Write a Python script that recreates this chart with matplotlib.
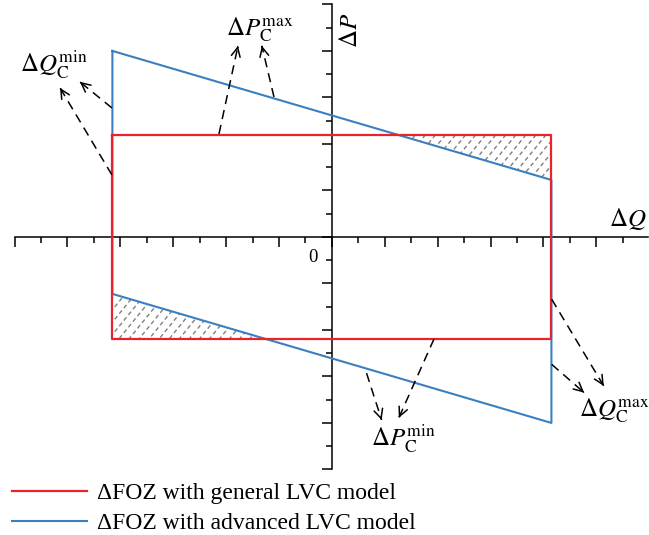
import numpy as np
import matplotlib
matplotlib.use('Agg')
import matplotlib.pyplot as plt
from matplotlib.patches import Polygon

plt.rcParams['font.family'] = ['Liberation Serif', 'DejaVu Serif']
plt.rcParams['mathtext.fontset'] = 'stix'

# FOZ bounds (tick units)
q_lim = [-8.3, 8.3]
p_lim = [-4.4, 4.4]
# advanced model: sloped upper / lower edges
adv_upper = [8.0, 2.45]
adv_lower = [-2.45, -8.0]

legend_labels = ['ΔFOZ with general LVC model', 'ΔFOZ with advanced LVC model']
red = '#e5242b'
blue = '#3b7fc0'

# annotation arrows: (start, end)
arrows_qmin = [((-8.32, 2.67), (-10.28, 6.41)), ((-8.32, 5.55), (-9.53, 6.67))]
arrows_pmax = [((-4.27, 4.43), (-3.55, 8.22)), ((-2.19, 6.02), (-2.65, 8.22))]
arrows_pmin = [((1.31, -5.86), (1.88, -7.87)), ((3.86, -4.39), (2.53, -7.78))]
arrows_qmax = [((8.31, -2.68), (10.28, -6.41)), ((8.31, -5.48), (9.54, -6.70))]

fig = plt.figure(figsize=(6.49, 5.35), dpi=100)
ax = fig.add_axes([0, 0, 1, 1])
ax.set_xlim(-12.55, 11.99)
ax.set_ylim(-12.82, 10.19)

# axes through origin
for s in ['top', 'right']:
    ax.spines[s].set_visible(False)
ax.spines['left'].set_position(('data', 0))
ax.spines['bottom'].set_position(('data', 0))
ax.spines['left'].set_bounds(-10, 10)
ax.spines['bottom'].set_bounds(-12, 11.95)
for s in ['left', 'bottom']:
    ax.spines[s].set_linewidth(1.1)
ax.set_xticks(np.arange(-12, 11, 2))
ax.set_xticks(np.arange(-11, 12, 2), minor=True)
ax.set_yticks(np.arange(-10, 11, 2))
ax.set_yticks(np.arange(-9, 10, 2), minor=True)
ax.tick_params(which='major', direction='out', length=7, width=1.1)
ax.tick_params(which='minor', direction='out', length=4, width=1.1)
ax.set_xticklabels([])
ax.set_yticklabels([])

# advanced model parallelogram
bx = [q_lim[0], q_lim[1], q_lim[1], q_lim[0], q_lim[0]]
by = [adv_upper[0], adv_upper[1], adv_lower[1], adv_lower[0], adv_upper[0]]
ax.plot(bx, by, color=blue, lw=1.5, zorder=3, label=legend_labels[1])

# general model rectangle
rx = [q_lim[0], q_lim[1], q_lim[1], q_lim[0], q_lim[0]]
ry = [p_lim[1], p_lim[1], p_lim[0], p_lim[0], p_lim[1]]
ax.plot(rx, ry, color=red, lw=1.6, zorder=4, label=legend_labels[0])

# hatched regions (dashed diagonal lines clipped)
slope_u = (adv_upper[1] - adv_upper[0]) / (q_lim[1] - q_lim[0])
xi_u = q_lim[0] + (p_lim[1] - adv_upper[0]) / slope_u
xi_l = q_lim[0] + (p_lim[0] - adv_lower[0]) / slope_u
regions = [
    [(xi_u, p_lim[1]), (q_lim[1], p_lim[1]), (q_lim[1], adv_upper[1])],
    [(q_lim[0], adv_lower[0]), (q_lim[0], p_lim[0]), (xi_l, p_lim[0])],
]
hs = 1.4
for reg in regions:
    poly = Polygon(reg, closed=True, fill=False, edgecolor='none')
    ax.add_patch(poly)
    for c in np.arange(-30, 30, 0.38):
        xs = np.array([-12, 12])
        ln, = ax.plot(xs, hs * (xs - c), color='#808080', lw=1.0,
                      ls=(0, (3, 2.2)), zorder=2)
        ln.set_clip_path(poly)


def dashed_arrow(start, end):
    ax.plot([start[0], end[0]], [start[1], end[1]], color='k', lw=1.1,
            ls=(0, (6, 4)), zorder=5)
    dx, dy = end[0] - start[0], end[1] - start[1]
    ax.annotate('', xy=end, xytext=(end[0] - 0.02 * dx, end[1] - 0.02 * dy),
                arrowprops=dict(arrowstyle='->,head_length=0.65,head_width=0.32',
                                color='k', lw=1.1, shrinkA=0, shrinkB=0),
                zorder=5)


for a in arrows_qmin + arrows_pmax + arrows_pmin + arrows_qmax:
    dashed_arrow(*a)

fs = 18
ax.text(-11.78, 7.10, r'$\Delta Q_{\mathrm{C}}^{\mathrm{min}}$', fontsize=fs)
ax.text(-4.0, 8.65, r'$\Delta P_{\mathrm{C}}^{\mathrm{max}}$', fontsize=fs)
ax.text(1.48, -8.95, r'$\Delta P_{\mathrm{C}}^{\mathrm{min}}$', fontsize=fs)
ax.text(9.33, -7.73, r'$\Delta Q_{\mathrm{C}}^{\mathrm{max}}$', fontsize=fs)

ax.text(0.72, 8.9, r'$\Delta P$', fontsize=18, rotation=90, ha='center', va='center')
ax.text(10.47, 0.47, r'$\Delta Q$', fontsize=18)
ax.text(-0.7, -0.9, '0', fontsize=13.5, ha='center', va='center')

h, l = ax.get_legend_handles_labels()
ax.legend(h[::-1], l[::-1], loc='lower left', bbox_to_anchor=(0.008, -0.012),
          frameon=False, fontsize=17, handlelength=3.15, handletextpad=0.42,
          labelspacing=0.36, borderaxespad=0.1, borderpad=0.2)

fig.savefig('out.png', dpi=100)
